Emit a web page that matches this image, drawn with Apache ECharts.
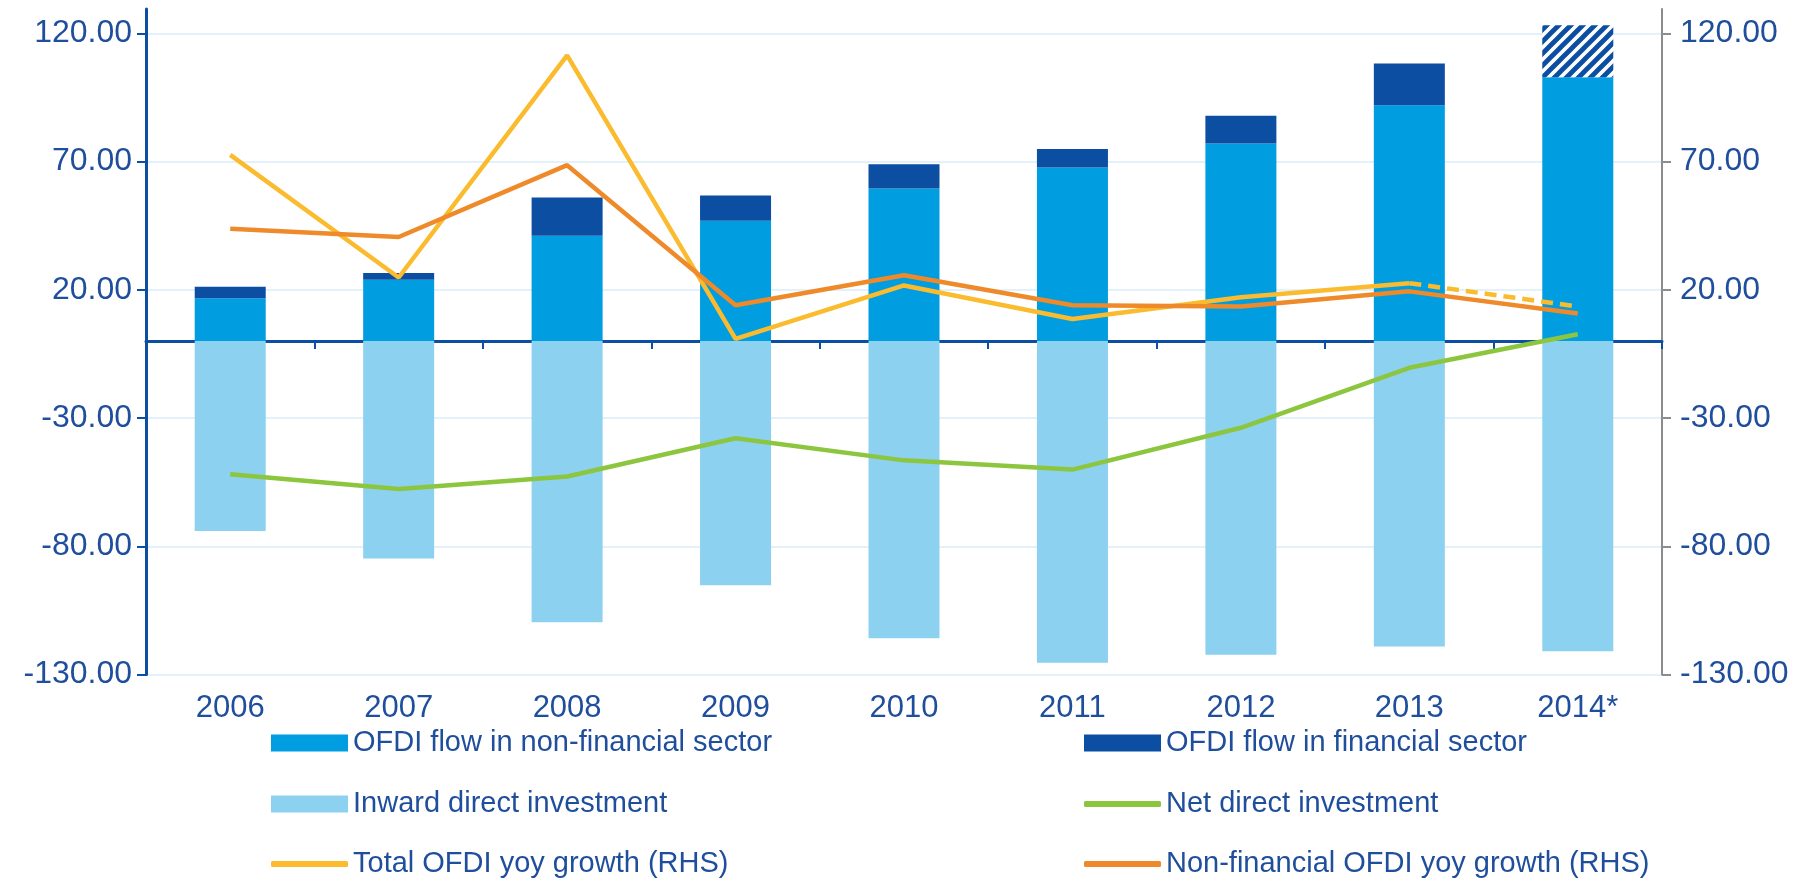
<!DOCTYPE html>
<html>
<head>
<meta charset="utf-8">
<script src="https://cdn.jsdelivr.net/npm/echarts@6/dist/echarts.min.js"></script>
<style>
  html, body { margin: 0; padding: 0; background: #fff; }
  #chart { width: 1808px; height: 879px; }
</style>
</head>
<body>
<div id="chart"></div>
<script>
// data
const years = ['2006', '2007', '2008', '2009', '2010', '2011', '2012', '2013', '2014*']
const ofdiNonFin = [16.7, 23.9, 41.1, 46.9, 59.5, 67.7, 77.1, 92.0, 102.9]
const ofdiFin = [4.5, 2.7, 14.9, 9.9, 9.5, 7.2, 10.8, 16.2, 20.3]
const inward = [-74.0, -84.8, -109.6, -95.2, -115.9, -125.4, -122.3, -119.1, -120.9]
const netDirect = [-51.9, -57.7, -52.8, -37.9, -46.5, -50.1, -33.8, -10.4, 2.7]
const totalGrowth = [72.6, 24.8, 111.4, 0.9, 21.7, 8.6, 17.1, 22.6, 13.5]
const nonFinGrowth = [43.8, 40.6, 68.6, 14.0, 25.7, 14.0, 13.5, 19.4, 10.8]
const tickValues = [-130, -80, -30, 20, 70, 120]
const lastActual = 7 // 2014 is an estimate

const textColor = '#1f4e9c'
const darkBlue = '#0b4ea2'
const font = 'Liberation Sans, Arial, sans-serif'

function hatch() {
  const c = document.createElement('canvas')
  c.width = 12
  c.height = 12
  const g = c.getContext('2d')
  g.fillStyle = '#fff'
  g.fillRect(0, 0, 12, 12)
  g.strokeStyle = darkBlue
  g.lineWidth = 4.8
  g.beginPath()
  g.moveTo(-6, 6); g.lineTo(6, -6)
  g.moveTo(0, 12); g.lineTo(12, 0)
  g.moveTo(6, 18); g.lineTo(18, 6)
  g.stroke()
  return c
}

// one legend per entry so each sits in its own cell of the 2x3 grid
function legendItem(name, col, row, isLine) {
  return {
    left: col === 0 ? 271 : 1084,
    top: [743, 804, 864][row] - 16,
    padding: 0,
    itemWidth: 77,
    itemHeight: isLine ? 6 : 17,
    icon: isLine ? 'roundRect' : 'rect',
    textStyle: { color: textColor, fontSize: 29, lineHeight: 32, padding: [0, 0, 0, 0] },
    data: [name]
  }
}

const chart = echarts.init(document.getElementById('chart'))

const yAxisBase = {
  type: 'value',
  min: -130,
  max: 129.5,
  axisTick: { show: true, length: 9, customValues: tickValues },
  axisLabel: {
    customValues: tickValues,
    formatter: v => v.toFixed(2),
    color: textColor,
    fontFamily: font,
    fontSize: 32
  },
  splitLine: { show: true, lineStyle: { color: '#d8edf8', width: 1.5 } }
}

chart.setOption({
  backgroundColor: '#fff',
  animation: false,
  textStyle: { fontFamily: font },
  grid: { left: 146, right: 146, top: 9, bottom: 204.5 },
  legend: [
    legendItem('OFDI flow in non-financial sector', 0, 0, false),
    legendItem('Inward direct investment', 0, 1, false),
    legendItem('Total OFDI yoy growth (RHS)', 0, 2, true),
    legendItem('OFDI flow in financial sector', 1, 0, false),
    legendItem('Net direct investment', 1, 1, true),
    legendItem('Non-financial OFDI yoy growth (RHS)', 1, 2, true)
  ],
  xAxis: [{
    type: 'category',
    data: years,
    position: 'bottom',
    axisLine: { onZero: true, lineStyle: { color: darkBlue, width: 3 } },
    axisTick: { show: true, length: 8, lineStyle: { color: darkBlue, width: 2 } },
    axisLabel: { show: false }
  }, {
    type: 'category',
    data: years,
    position: 'bottom',
    axisLine: { show: false, onZero: false },
    axisTick: { show: false },
    axisLabel: { color: textColor, fontSize: 31, margin: 18, fontFamily: font }
  }],
  yAxis: [
    Object.assign({}, yAxisBase, {
      position: 'left',
      axisLine: { show: true, lineStyle: { color: darkBlue, width: 3 } },
      axisTick: Object.assign({}, yAxisBase.axisTick, { lineStyle: { color: darkBlue, width: 2 } }),
      axisLabel: Object.assign({}, yAxisBase.axisLabel, { margin: 14 })
    }),
    Object.assign({}, yAxisBase, {
      position: 'right',
      axisLine: { show: true, onZero: false, lineStyle: { color: '#8c8c8c', width: 2 } },
      axisTick: Object.assign({}, yAxisBase.axisTick, { lineStyle: { color: '#8c8c8c', width: 2 } }),
      axisLabel: Object.assign({}, yAxisBase.axisLabel, { margin: 18 }),
      splitLine: { show: false }
    })
  ],
  series: [{
    name: 'OFDI flow in non-financial sector',
    type: 'bar',
    stack: 'a',
    barWidth: 71,
    itemStyle: { color: '#009de0' },
    data: ofdiNonFin
  }, {
    name: 'OFDI flow in financial sector',
    type: 'bar',
    stack: 'a',
    barWidth: 71,
    itemStyle: { color: darkBlue },
    data: ofdiFin.map((v, i) => i > lastActual
      ? { value: v, itemStyle: { color: { image: hatch(), repeat: 'repeat' } } }
      : v)
  }, {
    name: 'Inward direct investment',
    type: 'bar',
    stack: 'a',
    barWidth: 71,
    itemStyle: { color: '#8dd1f1' },
    data: inward
  }, {
    name: 'Net direct investment',
    type: 'line',
    symbol: 'none',
    lineStyle: { color: '#8cc63f', width: 4.5 },
    itemStyle: { color: '#8cc63f' },
    data: netDirect
  }, {
    name: 'Total OFDI yoy growth (RHS)',
    type: 'line',
    yAxisIndex: 1,
    symbol: 'none',
    lineStyle: { color: '#fbbb2f', width: 4.5 },
    itemStyle: { color: '#fbbb2f' },
    data: totalGrowth.map((v, i) => i <= lastActual ? v : null)
  }, {
    name: 'Total OFDI yoy growth estimate',
    type: 'line',
    yAxisIndex: 1,
    symbol: 'none',
    lineStyle: { color: '#fbbb2f', width: 4.5, type: [12, 7] },
    data: totalGrowth.map((v, i) => i >= lastActual ? v : null)
  }, {
    name: 'Non-financial OFDI yoy growth (RHS)',
    type: 'line',
    yAxisIndex: 1,
    symbol: 'none',
    lineStyle: { color: '#ef8a2a', width: 4.5 },
    itemStyle: { color: '#ef8a2a' },
    data: nonFinGrowth
  }]
})
</script>
</body>
</html>
